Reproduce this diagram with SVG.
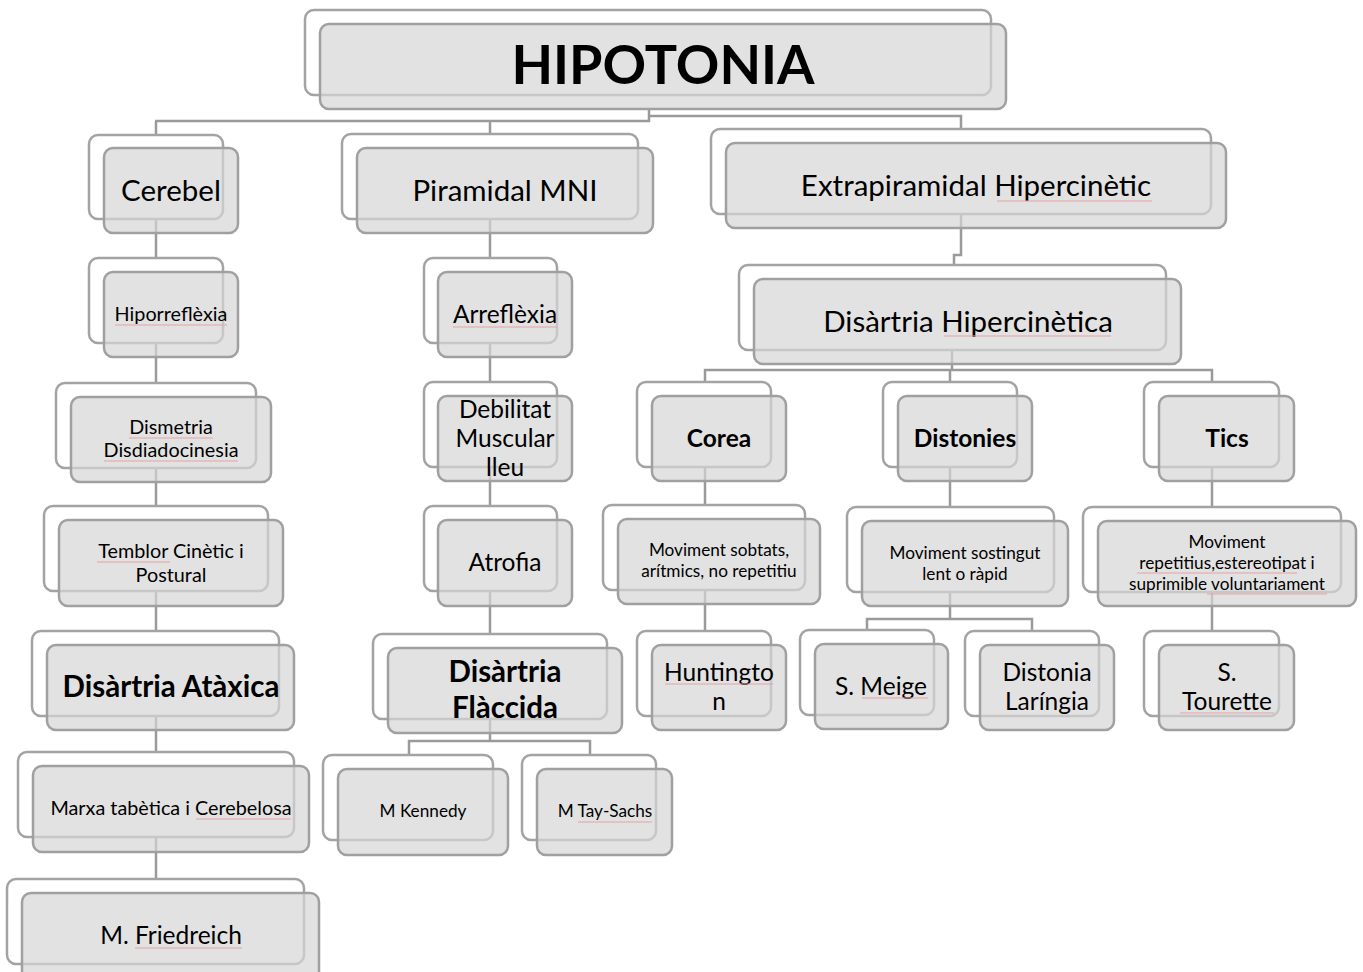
<svg xmlns="http://www.w3.org/2000/svg" width="1363" height="972" viewBox="0 0 1363 972">
<style>
.bk{fill:#fff;stroke:#a3a3a3;stroke-width:2.5}
.fr{fill:#d6d6d6;fill-opacity:0.7;stroke:#a0a0a0;stroke-width:2.5}
.c{fill:none;stroke:#9a9a9a;stroke-width:2.5}
.sq{fill:none;stroke:#e8a2a2;stroke-width:1.2}
text{font-family:Lato,"Liberation Sans",sans-serif;fill:#000;text-anchor:middle}
.b{font-weight:bold}
.L{font-size:29.5px}
.M{font-size:24.5px}
.S{font-size:19.8px}
.T{font-size:17.2px}
</style>
<rect width="1363" height="972" fill="#fff"/>
<g id="connectors">
<polyline class="c" points="649,109 649,121 155,121"/>
<polyline class="c" points="649,116 961,116 961,129"/>
<line class="c" x1="156" y1="121" x2="156" y2="879"/>
<line class="c" x1="490" y1="121" x2="490" y2="634"/>
<polyline class="c" points="490,719 490,741"/>
<polyline class="c" points="409,755 409,741 590,741 590,755"/>
<polyline class="c" points="961,214 961,255 954,255 954,265"/>
<line class="c" x1="952" y1="350" x2="952" y2="370"/>
<polyline class="c" points="705,382 705,370 1212,370 1212,382"/>
<line class="c" x1="950" y1="370" x2="950" y2="382"/>
<line class="c" x1="705" y1="467" x2="705" y2="631"/>
<line class="c" x1="950" y1="467" x2="950" y2="619"/>
<polyline class="c" points="867,630 867,619 1032,619 1032,631"/>
<line class="c" x1="1212" y1="467" x2="1212" y2="631"/>
</g>
<g id="n-hipotonia"><rect class="bk" x="305" y="10" width="686" height="85" rx="9"/><rect class="fr" x="320" y="24" width="686" height="85" rx="9"/><text class="b" x="663" y="84" font-size="54">HIPOTONIA</text></g>
<g id="n-cerebel"><rect class="bk" x="89" y="135" width="134" height="84" rx="9"/><rect class="fr" x="104" y="148" width="134" height="85" rx="9"/><text class="L" x="171" y="201">Cerebel</text></g>
<g id="n-piramidal"><rect class="bk" x="342" y="134" width="296" height="85" rx="9"/><rect class="fr" x="357" y="148" width="296" height="85" rx="9"/><text class="L" x="505" y="201">Piramidal MNI</text></g>
<g id="n-extrapiramidal"><rect class="bk" x="711" y="129" width="500" height="85" rx="9"/><rect class="fr" x="726" y="143" width="500" height="85" rx="9"/><text class="L" x="976" y="196">Extrapiramidal Hipercinètic</text></g>
<g id="n-hipercinetica"><rect class="bk" x="739" y="265" width="427" height="85" rx="9"/><rect class="fr" x="754" y="279" width="427" height="85" rx="9"/><text class="L" x="968" y="332">Disàrtria Hipercinètica</text></g>
<g id="n-hiporreflexia"><rect class="bk" x="89" y="258" width="134" height="85" rx="9"/><rect class="fr" x="104" y="272" width="134" height="85" rx="9"/><text class="S" x="171" y="321">Hiporreflèxia</text></g>
<g id="n-arreflexia"><rect class="bk" x="424" y="258" width="133" height="85" rx="9"/><rect class="fr" x="438" y="272" width="134" height="85" rx="9"/><text class="M" x="505" y="323">Arreflèxia</text></g>
<g id="n-dismetria"><rect class="bk" x="56" y="383" width="200" height="85" rx="9"/><rect class="fr" x="71" y="397" width="200" height="85" rx="9"/><text class="S" x="171" y="434">Dismetria</text><text class="S" x="171" y="457">Disdiadocinesia</text></g>
<g id="n-debilitat"><rect class="bk" x="424" y="382" width="133" height="85" rx="9"/><rect class="fr" x="438" y="396" width="134" height="85" rx="9"/><text class="M" x="505" y="418">Debilitat</text><text class="M" x="505" y="447">Muscular</text><text class="M" x="505" y="476">lleu</text></g>
<g id="n-corea"><rect class="bk" x="637" y="382" width="134" height="85" rx="9"/><rect class="fr" x="652" y="396" width="134" height="85" rx="9"/><text class="M b" x="719" y="447">Corea</text></g>
<g id="n-distonies"><rect class="bk" x="883" y="382" width="134" height="85" rx="9"/><rect class="fr" x="898" y="396" width="134" height="85" rx="9"/><text class="M b" x="965" y="447">Distonies</text></g>
<g id="n-tics"><rect class="bk" x="1144" y="382" width="135" height="85" rx="9"/><rect class="fr" x="1159" y="396" width="135" height="85" rx="9"/><text class="M b" x="1227" y="447">Tics</text></g>
<g id="n-temblor"><rect class="bk" x="44" y="506" width="224" height="85" rx="9"/><rect class="fr" x="59" y="520" width="224" height="86" rx="9"/><text class="S" x="171" y="558">Temblor Cinètic i</text><text class="S" x="171" y="582">Postural</text></g>
<g id="n-atrofia"><rect class="bk" x="424" y="506" width="133" height="85" rx="9"/><rect class="fr" x="438" y="520" width="134" height="86" rx="9"/><text class="M" x="505" y="571">Atrofia</text></g>
<g id="n-sobtats"><rect class="bk" x="603" y="505" width="202" height="85" rx="9"/><rect class="fr" x="618" y="519" width="202" height="85" rx="9"/><text class="T" x="719" y="556">Moviment sobtats,</text><text class="T" x="719" y="577">arítmics, no repetitiu</text></g>
<g id="n-sostingut"><rect class="bk" x="847" y="507" width="207" height="85" rx="9"/><rect class="fr" x="862" y="521" width="206" height="85" rx="9"/><text class="T" x="965" y="559">Moviment sostingut</text><text class="T" x="965" y="580">lent o ràpid</text></g>
<g id="n-repetitius"><rect class="bk" x="1083" y="507" width="258" height="85" rx="9"/><rect class="fr" x="1098" y="521" width="258" height="85" rx="9"/><text class="T" x="1227" y="548">Moviment</text><text class="T" x="1227" y="569">repetitius,estereotipat i</text><text class="T" x="1227" y="590">suprimible voluntariament</text></g>
<g id="n-ataxica"><rect class="bk" x="32" y="631" width="247" height="85" rx="9"/><rect class="fr" x="47" y="645" width="247" height="85" rx="9"/><text class="L b" x="171" y="697">Disàrtria Atàxica</text></g>
<g id="n-flaccida"><rect class="bk" x="373" y="634" width="234" height="85" rx="9"/><rect class="fr" x="388" y="648" width="234" height="85" rx="9"/><text class="L b" x="505" y="682">Disàrtria</text><text class="L b" x="505" y="718">Flàccida</text></g>
<g id="n-huntington"><rect class="bk" x="637" y="631" width="134" height="85" rx="9"/><rect class="fr" x="652" y="645" width="134" height="85" rx="9"/><text class="M" x="719" y="681">Huntingto</text><text class="M" x="719" y="710">n</text></g>
<g id="n-meige"><rect class="bk" x="800" y="630" width="134" height="85" rx="9"/><rect class="fr" x="815" y="644" width="133" height="85" rx="9"/><text class="M" x="881" y="695">S. Meige</text></g>
<g id="n-laringia"><rect class="bk" x="965" y="631" width="134" height="85" rx="9"/><rect class="fr" x="980" y="645" width="134" height="85" rx="9"/><text class="M" x="1047" y="681">Distonia</text><text class="M" x="1047" y="710">Laríngia</text></g>
<g id="n-tourette"><rect class="bk" x="1144" y="631" width="135" height="85" rx="9"/><rect class="fr" x="1159" y="645" width="135" height="85" rx="9"/><text class="M" x="1227" y="681">S.</text><text class="M" x="1227" y="710">Tourette</text></g>
<g id="n-marxa"><rect class="bk" x="18" y="752" width="276" height="85" rx="9"/><rect class="fr" x="33" y="766" width="276" height="86" rx="9"/><text class="S" x="171" y="815">Marxa tabètica i Cerebelosa</text></g>
<g id="n-kennedy"><rect class="bk" x="323" y="755" width="170" height="85" rx="9"/><rect class="fr" x="338" y="769" width="170" height="86" rx="9"/><text class="T" x="423" y="817">M Kennedy</text></g>
<g id="n-taysachs"><rect class="bk" x="522" y="755" width="134" height="85" rx="9"/><rect class="fr" x="537" y="769" width="135" height="86" rx="9"/><text class="T" x="605" y="817">M Tay-Sachs</text></g>
<g id="n-friedreich"><rect class="bk" x="7" y="879" width="297" height="85" rx="9"/><rect class="fr" x="22" y="893" width="297" height="95" rx="9"/><text class="M" x="171" y="944">M. Friedreich</text></g>
<g id="spellcheck-underlines">
<line class="sq" x1="997" y1="201" x2="1152" y2="201"/>
<line class="sq" x1="944" y1="336" x2="1111" y2="336"/>
<line class="sq" x1="115" y1="325" x2="227" y2="325"/>
<line class="sq" x1="453" y1="327" x2="557" y2="327"/>
<line class="sq" x1="129" y1="438" x2="213" y2="438"/>
<line class="sq" x1="104" y1="461" x2="238" y2="461"/>
<line class="sq" x1="97" y1="562" x2="170" y2="562"/>
<line class="sq" x1="196" y1="819" x2="291" y2="819"/>
<line class="sq" x1="135" y1="948" x2="242" y2="948"/>
<line class="sq" x1="578" y1="822" x2="652" y2="822"/>
<line class="sq" x1="1137" y1="573" x2="1297" y2="573"/>
<line class="sq" x1="1207" y1="594" x2="1327" y2="594"/>
<line class="sq" x1="862" y1="698" x2="928" y2="698"/>
<line class="sq" x1="1180" y1="713" x2="1274" y2="713"/>
<line class="sq" x1="665" y1="684" x2="773" y2="684"/>
</g>
</svg>
